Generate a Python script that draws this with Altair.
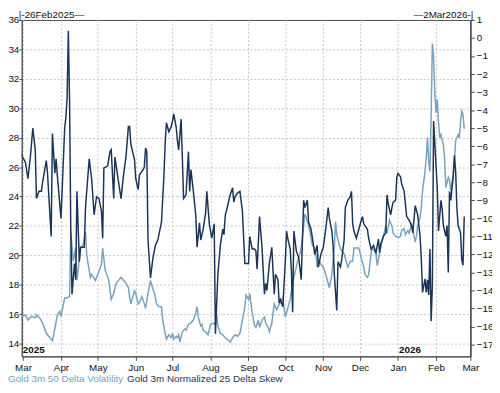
import altair as alt
import pandas as pd

# ---------------- data ----------------
vol_dates = [
    "2025-02-26", "2025-02-28", "2025-03-03", "2025-03-05", "2025-03-08", "2025-03-11", "2025-03-12",
    "2025-03-15", "2025-03-17", "2025-03-20", "2025-03-23", "2025-03-25", "2025-03-27", "2025-03-29",
    "2025-03-31", "2025-04-01", "2025-04-04", "2025-04-06", "2025-04-08", "2025-04-09", "2025-04-11",
    "2025-04-13", "2025-04-14", "2025-04-17", "2025-04-19", "2025-04-21", "2025-04-22", "2025-04-25",
    "2025-04-26", "2025-04-29", "2025-05-02", "2025-05-04", "2025-05-05", "2025-05-07", "2025-05-10",
    "2025-05-12", "2025-05-14", "2025-05-16", "2025-05-20", "2025-05-22", "2025-05-24", "2025-05-26",
    "2025-05-27", "2025-05-28", "2025-05-31", "2025-06-01", "2025-06-03", "2025-06-04", "2025-06-06",
    "2025-06-08", "2025-06-09", "2025-06-11", "2025-06-13", "2025-06-15", "2025-06-16", "2025-06-18",
    "2025-06-20", "2025-06-22", "2025-06-23", "2025-06-25", "2025-06-26", "2025-06-28", "2025-06-30",
    "2025-07-01", "2025-07-02", "2025-07-04", "2025-07-05", "2025-07-06", "2025-07-07", "2025-07-09",
    "2025-07-11", "2025-07-12", "2025-07-14", "2025-07-16", "2025-07-18", "2025-07-20", "2025-07-21",
    "2025-07-22", "2025-07-24", "2025-07-25", "2025-07-26", "2025-07-28", "2025-07-30", "2025-08-01",
    "2025-08-03", "2025-08-05", "2025-08-06", "2025-08-07", "2025-08-09", "2025-08-11", "2025-08-13",
    "2025-08-16", "2025-08-17", "2025-08-19", "2025-08-21", "2025-08-23", "2025-08-25", "2025-08-27",
    "2025-08-29", "2025-08-30", "2025-09-01", "2025-09-02", "2025-09-04", "2025-09-06", "2025-09-07",
    "2025-09-09", "2025-09-10", "2025-09-12", "2025-09-14", "2025-09-15", "2025-09-17", "2025-09-18",
    "2025-09-20", "2025-09-22", "2025-09-24", "2025-09-25", "2025-09-27", "2025-09-29", "2025-10-01",
    "2025-10-02", "2025-10-05", "2025-10-06", "2025-10-08", "2025-10-10", "2025-10-11", "2025-10-13",
    "2025-10-14", "2025-10-16", "2025-10-17", "2025-10-18", "2025-10-20", "2025-10-22", "2025-10-23",
    "2025-10-25", "2025-10-26", "2025-10-27", "2025-10-29", "2025-10-30", "2025-11-01", "2025-11-03",
    "2025-11-05", "2025-11-06", "2025-11-08", "2025-11-10", "2025-11-11", "2025-11-12", "2025-11-14",
    "2025-11-16", "2025-11-18", "2025-11-19", "2025-11-21", "2025-11-23", "2025-11-25", "2025-11-26",
    "2025-11-28", "2025-11-30", "2025-12-02", "2025-12-04", "2025-12-05", "2025-12-07", "2025-12-08",
    "2025-12-10", "2025-12-11", "2025-12-12", "2025-12-14", "2025-12-15", "2025-12-17", "2025-12-18",
    "2025-12-20", "2025-12-22", "2025-12-23", "2025-12-25", "2025-12-27", "2025-12-28", "2025-12-30",
    "2026-01-01", "2026-01-03", "2026-01-04", "2026-01-06", "2026-01-07", "2026-01-09", "2026-01-10",
    "2026-01-12", "2026-01-13", "2026-01-15", "2026-01-16", "2026-01-17", "2026-01-19", "2026-01-20",
    "2026-01-21", "2026-01-23", "2026-01-24", "2026-01-25", "2026-01-26", "2026-01-27", "2026-01-28",
    "2026-01-29", "2026-01-30", "2026-01-31", "2026-02-01", "2026-02-02", "2026-02-03", "2026-02-04",
    "2026-02-05", "2026-02-07", "2026-02-08", "2026-02-09", "2026-02-11", "2026-02-12", "2026-02-13",
    "2026-02-15", "2026-02-16", "2026-02-17", "2026-02-19", "2026-02-20", "2026-02-21", "2026-02-22",
    "2026-02-23", "2026-02-24",
]
vol_values = [
    15.5, 15.85, 15.95, 15.6, 15.85, 15.75, 15.95,
    15.7, 15.4, 14.7, 14.4, 14.2, 15.0, 15.95,
    16.2, 15.85, 17.1, 17.1, 17.2, 21.6, 19.6,
    20.5, 18.3, 20.5, 20.7, 21.6, 20.0, 18.5,
    18.7, 18.3, 18.9, 19.4, 20.5, 19.0, 18.3,
    17.0, 17.4, 18.1, 18.5, 18.3, 18.1, 17.8,
    17.2, 16.7, 17.6, 17.4, 16.7, 16.8, 17.2,
    16.7, 16.4, 17.4, 18.3, 17.7, 17.5, 16.7,
    16.5, 16.5, 15.6, 14.7, 14.3, 14.6, 14.4,
    14.7, 14.3, 14.5, 14.4, 14.6, 14.1, 14.8,
    15.0, 14.9, 15.3, 15.4, 15.6, 16.1, 16.5,
    15.8, 15.2, 15.3, 14.9, 14.8, 14.6, 15.3,
    15.4, 15.3, 16.0, 15.2, 14.7, 14.6, 14.4,
    14.2, 14.1, 14.4, 14.6, 14.5, 14.7, 15.6,
    16.5, 17.3, 17.0, 17.4, 16.1, 15.2, 15.1,
    15.6, 15.1, 15.6, 15.8, 15.4, 15.1, 14.8,
    15.4, 16.7, 16.3, 16.5, 16.8, 17.1, 15.8,
    16.1, 17.0, 17.6, 18.5, 19.2, 19.6, 20.1,
    20.5, 22.0, 22.8, 22.6, 22.0, 21.2, 20.7,
    20.5, 20.1, 19.2, 19.6, 19.4, 19.2, 18.7,
    18.1, 17.8, 18.7, 20.5, 22.3, 21.4, 20.7,
    20.3, 20.1, 19.8, 19.2, 19.6, 19.6, 20.5,
    20.5, 20.5, 19.8, 19.2, 18.7, 18.5, 18.7,
    20.1, 20.5, 20.4, 20.1, 19.3, 20.2, 20.6,
    21.3, 22.0, 21.5, 22.4, 22.0, 21.5, 21.3,
    21.2, 21.3, 21.7, 21.8, 21.4, 21.7, 21.5,
    22.1, 21.8, 20.9, 21.3, 22.0, 22.6, 23.3,
    24.4, 25.7, 26.6, 28.0, 26.4, 25.7, 29.5,
    34.4, 33.5, 31.0, 29.7, 30.6, 29.1, 28.0,
    28.2, 27.5, 26.6, 24.6, 25.3, 25.1, 24.4,
    25.5, 26.4, 27.8, 28.2, 28.0, 29.1, 29.8,
    29.6, 28.6,
]

skew_dates = [
    "2025-02-26", "2025-02-28", "2025-03-03", "2025-03-05", "2025-03-07", "2025-03-09", "2025-03-11",
    "2025-03-12", "2025-03-14", "2025-03-16", "2025-03-17", "2025-03-20", "2025-03-21", "2025-03-24",
    "2025-03-25", "2025-03-27", "2025-03-28", "2025-03-29", "2025-04-01", "2025-04-04", "2025-04-05",
    "2025-04-06", "2025-04-07", "2025-04-08", "2025-04-09", "2025-04-10", "2025-04-12", "2025-04-13",
    "2025-04-14", "2025-04-16", "2025-04-17", "2025-04-20", "2025-04-21", "2025-04-24", "2025-04-26",
    "2025-04-28", "2025-04-30", "2025-05-02", "2025-05-04", "2025-05-05", "2025-05-06", "2025-05-09",
    "2025-05-11", "2025-05-12", "2025-05-14", "2025-05-15", "2025-05-18", "2025-05-20", "2025-05-22",
    "2025-05-24", "2025-05-26", "2025-05-27", "2025-05-28", "2025-05-31", "2025-06-01", "2025-06-03",
    "2025-06-04", "2025-06-07", "2025-06-08", "2025-06-09", "2025-06-10", "2025-06-11", "2025-06-13",
    "2025-06-15", "2025-06-17", "2025-06-19", "2025-06-22", "2025-06-24", "2025-06-25", "2025-06-26",
    "2025-06-28", "2025-06-30", "2025-07-01", "2025-07-02", "2025-07-04", "2025-07-05", "2025-07-06",
    "2025-07-08", "2025-07-09", "2025-07-10", "2025-07-12", "2025-07-14", "2025-07-15", "2025-07-16",
    "2025-07-18", "2025-07-20", "2025-07-21", "2025-07-23", "2025-07-24", "2025-07-26", "2025-07-28",
    "2025-07-29", "2025-07-31", "2025-08-02", "2025-08-04", "2025-08-05", "2025-08-07", "2025-08-09",
    "2025-08-11", "2025-08-12", "2025-08-13", "2025-08-15", "2025-08-17", "2025-08-19", "2025-08-20",
    "2025-08-21", "2025-08-23", "2025-08-25", "2025-08-27", "2025-08-29", "2025-09-01", "2025-09-02",
    "2025-09-04", "2025-09-06", "2025-09-07", "2025-09-08", "2025-09-10", "2025-09-12", "2025-09-14",
    "2025-09-15", "2025-09-16", "2025-09-18", "2025-09-20", "2025-09-22", "2025-09-23", "2025-09-25",
    "2025-09-26", "2025-09-27", "2025-09-29", "2025-10-01", "2025-10-02", "2025-10-03", "2025-10-05",
    "2025-10-06", "2025-10-07", "2025-10-08", "2025-10-10", "2025-10-12", "2025-10-14", "2025-10-16",
    "2025-10-17", "2025-10-19", "2025-10-20", "2025-10-22", "2025-10-24", "2025-10-25", "2025-10-27",
    "2025-10-28", "2025-10-30", "2025-11-01", "2025-11-03", "2025-11-05", "2025-11-06", "2025-11-08",
    "2025-11-09", "2025-11-10", "2025-11-12", "2025-11-13", "2025-11-15", "2025-11-16", "2025-11-18",
    "2025-11-19", "2025-11-21", "2025-11-23", "2025-11-24", "2025-11-25", "2025-11-26", "2025-11-28",
    "2025-11-30", "2025-12-02", "2025-12-03", "2025-12-04", "2025-12-07", "2025-12-08", "2025-12-10",
    "2025-12-12", "2025-12-14", "2025-12-16", "2025-12-17", "2025-12-18", "2025-12-20", "2025-12-22",
    "2025-12-23", "2025-12-24", "2025-12-26", "2025-12-27", "2025-12-28", "2025-12-30", "2025-12-31",
    "2026-01-01", "2026-01-03", "2026-01-04", "2026-01-06", "2026-01-08", "2026-01-10", "2026-01-12",
    "2026-01-13", "2026-01-15", "2026-01-17", "2026-01-19", "2026-01-20", "2026-01-21", "2026-01-23",
    "2026-01-24", "2026-01-25", "2026-01-26", "2026-01-27", "2026-01-28", "2026-01-29", "2026-01-30",
    "2026-01-31", "2026-02-02", "2026-02-03", "2026-02-05", "2026-02-06", "2026-02-07", "2026-02-09",
    "2026-02-10", "2026-02-11", "2026-02-12", "2026-02-13", "2026-02-15", "2026-02-16", "2026-02-17",
    "2026-02-18", "2026-02-19", "2026-02-21", "2026-02-22", "2026-02-23", "2026-02-24",
]
skew_values = [
    -6.3, -6.5, -6.9, -7.8, -6.6, -5.0, -6.2,
    -8.9, -8.5, -8.5, -8.0, -6.8, -7.5, -11.0,
    -5.3, -7.5, -6.7, -7.6, -10.0, -5.0, -4.4,
    -3.3, 0.4, -3.5, -10.7, -14.2, -12.5, -13.4,
    -8.5, -12.4, -11.6, -11.6, -9.4, -6.7, -7.8,
    -9.8, -8.8, -8.9, -9.6, -11.1, -7.2, -7.1,
    -6.3, -6.2, -8.9, -6.6, -8.0, -8.9, -7.6,
    -6.6, -4.9, -4.9, -5.9, -6.75, -7.8, -8.4,
    -7.6, -7.3, -7.15, -6.1, -6.3, -11.2, -13.3,
    -12.2, -11.5, -11.2, -10.2, -7.6, -5.85, -4.7,
    -5.2, -4.9, -4.6, -4.2, -4.95, -5.7, -6.2,
    -4.5, -6.6, -8.9, -8.7, -6.3, -8.5, -7.3,
    -8.5, -9.85, -11.6, -10.25, -11.2, -10.6, -9.7,
    -8.5, -10.3, -11.1, -10.3, -16.4, -13.1, -11.5,
    -10.6, -10.9, -9.85, -9.3, -8.7, -8.3, -9.1,
    -8.8, -8.6, -8.5, -9.6, -12.5, -12.5, -11.0,
    -11.7, -11.7, -11.8, -12.8, -9.9, -11.6, -14.2,
    -13.6, -14.0, -12.5, -11.6, -14.2, -13.1, -13.4,
    -14.7, -14.5, -14.9, -12.4, -10.7, -11.1, -11.7,
    -12.9, -15.2, -10.7, -11.8, -12.2, -13.4, -9.0,
    -9.4, -9.0, -10.2, -10.6, -11.5, -12.0, -11.5,
    -12.7, -12.0, -11.6, -10.6, -9.4, -10.0, -10.7,
    -11.5, -13.1, -15.1, -12.4, -12.7, -12.3, -11.2,
    -9.4, -9.0, -8.8, -8.5, -10.3, -10.7, -11.1,
    -10.6, -10.1, -9.9, -10.3, -10.6, -11.1, -11.7,
    -11.5, -11.9, -11.15, -11.9, -11.4, -11.0, -10.8,
    -8.7, -9.2, -9.8, -9.4, -9.1, -9.0, -7.7,
    -7.5, -7.7, -8.1, -8.5, -9.9, -10.1, -10.4,
    -10.8, -9.3, -9.8, -11.0, -12.3, -14.1, -13.35,
    -14.1, -13.4, -14.25, -11.7, -15.7, -13.7, -4.6,
    -5.85, -8.3, -10.7, -9.0, -9.5, -10.4, -11.0,
    -10.4, -13.0, -8.5, -9.0, -7.7, -6.5, -7.4,
    -9.4, -10.4, -10.8, -12.3, -12.6, -9.9,
]

vol_ticks = [14, 16, 18, 20, 22, 24, 26, 28, 30, 32, 34, 36]
skew_ticks = [1, 0, -1, -2, -3, -4, -5, -6, -7, -8, -9, -10, -11, -12, -13, -14, -15, -16, -17]
tick_months = [(2025, 3), (2025, 4), (2025, 5), (2025, 6), (2025, 7), (2025, 8), (2025, 9),
               (2025, 10), (2025, 11), (2025, 12), (2026, 1), (2026, 2), (2026, 3)]
vol_label = "Gold 3m 50 Delta Volatility"
skew_label = "Gold 3m Normalized 25 Delta Skew"
year_dates = ["2025-02-28", "2026-01-01"]
year_labels = ["2025", "2026"]
range_start_label = "|-26Feb2025\u2014"
range_end_label = "\u20142Mar2026-|"

# ---------------- styling ----------------
LIGHT = "#78a2bd"
DARK = "#1b3558"
FONT = "Liberation Sans"
TXT = "#111111"
FRAME = "#4a4a4a"
GRID = "#c4c4c4"

vol_df = pd.DataFrame({"date": vol_dates, "vol": vol_values})
skew_df = pd.DataFrame({"date": skew_dates, "skew": skew_values})
year_df = pd.DataFrame({"date": year_dates, "label": year_labels})

x_domain = [alt.DateTime(year=2025, month=2, date=28, utc=True),
            alt.DateTime(year=2026, month=3, date=1, utc=True)]
month_values = [alt.DateTime(year=y, month=m, date=1, utc=True) for (y, m) in tick_months]

x_enc = alt.X(
    "date:T",
    scale=alt.Scale(type="utc", domain=x_domain),
    axis=alt.Axis(values=month_values, labelExpr="utcFormat(datum.value, '%b')", title=None,
                  grid=True, gridColor=GRID, gridDash=[2, 2], gridWidth=1,
                  tickSize=4, tickColor=FRAME, domainColor=FRAME, labelPadding=2,
                  labelFont=FONT, labelFontSize=10, labelColor=TXT, labelFlush=False,
                  labelOverlap=False),
)

vol_line = alt.Chart(vol_df).mark_line(color=LIGHT, strokeWidth=1.5, clip=True).encode(
    x=x_enc,
    y=alt.Y("vol:Q",
            scale=alt.Scale(domain=[13.13, 36], zero=False, nice=False),
            axis=alt.Axis(orient="left", values=vol_ticks, title=None, grid=True,
                          gridColor=GRID, gridDash=[2, 2], gridWidth=1,
                          gridOpacity={"condition": {"test": "datum.value >= 36", "value": 0},
                                       "value": 1},
                          tickSize=3, tickColor=FRAME, domainColor=FRAME, labelPadding=0,
                          labelFont=FONT, labelFontSize=10, labelColor=TXT,
                          labelOverlap=False, labelFlush=False)),
)

skew_line = alt.Chart(skew_df).mark_line(color=DARK, strokeWidth=1.5, clip=True).encode(
    x=x_enc,
    y=alt.Y("skew:Q",
            scale=alt.Scale(domain=[-17.65, 1], zero=False, nice=False),
            axis=alt.Axis(orient="right", values=skew_ticks, title=None, grid=False,
                          tickSize=4, tickColor=FRAME, domainColor=FRAME, domainWidth=1.5,
                          labelPadding=2, labelFont=FONT, labelFontSize=10, labelColor=TXT,
                          labelOverlap=False, labelFlush=False)),
)

years = alt.Chart(year_df).mark_text(
    align="left", baseline="alphabetic", dx=1, font=FONT, fontSize=10,
    fontWeight="bold", color=TXT,
).encode(x=x_enc, y=alt.value(339), text="label:N")

top_left = alt.Chart(pd.DataFrame({"t": [range_start_label]})).mark_text(
    align="left", baseline="alphabetic", font=FONT, fontSize=10, color=TXT,
).encode(x=alt.value(-3), y=alt.value(-2), text="t:N")

top_right = alt.Chart(pd.DataFrame({"t": [range_end_label]})).mark_text(
    align="right", baseline="alphabetic", font=FONT, fontSize=10, color=TXT,
).encode(x=alt.value(459), y=alt.value(-2), text="t:N")

leg_vol = alt.Chart(pd.DataFrame({"t": [vol_label]})).mark_text(
    align="left", baseline="alphabetic", font=FONT, fontSize=10, color=LIGHT,
).encode(x=alt.value(-14), y=alt.value(368), text="t:N")

leg_skew = alt.Chart(pd.DataFrame({"t": [skew_label]})).mark_text(
    align="left", baseline="alphabetic", font=FONT, fontSize=10, color=DARK,
).encode(x=alt.value(107), y=alt.value(368), text="t:N")

chart = alt.layer(
    vol_line, skew_line, years, top_left, top_right, leg_vol, leg_skew
).resolve_scale(y="independent").properties(
    width=456, height=342,
    autosize=alt.AutoSizeParams(type="none"),
    padding={"left": 14, "top": 9, "right": 22, "bottom": 31},
    background="white",
).configure_view(stroke=FRAME, strokeWidth=1)

chart.save("out.html", embed_options={"renderer": "svg", "actions": False})
